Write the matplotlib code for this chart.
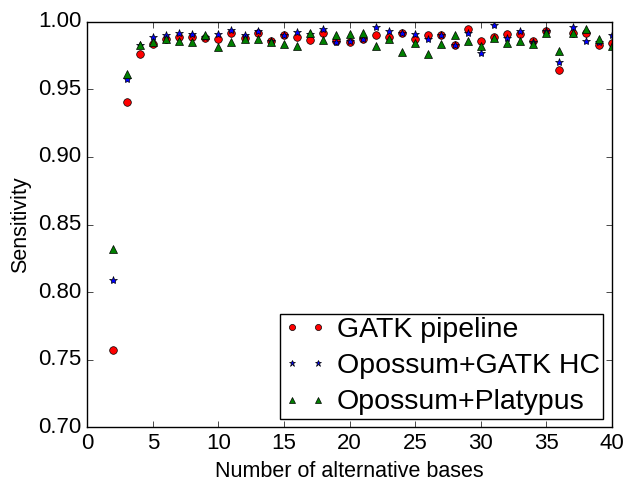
import matplotlib
matplotlib.use("Agg")
import matplotlib.pyplot as plt

plt.style.use("classic")
plt.rcParams["font.family"] = ["Liberation Sans", "DejaVu Sans"]

bases = list(range(2, 41))

gatk_pipeline = [
    0.757, 0.941, 0.976, 0.9835, 0.987, 0.989, 0.989, 0.988, 0.987, 0.992,
    0.988, 0.992, 0.9857, 0.990, 0.9884, 0.9867, 0.9916, 0.986, 0.985, 0.987,
    0.990, 0.989, 0.9916, 0.987, 0.990, 0.990, 0.983, 0.9948, 0.986, 0.989,
    0.991, 0.991, 0.9855, 0.993, 0.964, 0.992, 0.992, 0.983, 0.984,
]

opossum_gatk_hc = [
    0.809, 0.958, 0.983, 0.989, 0.990, 0.992, 0.991, 0.989, 0.991, 0.994,
    0.990, 0.993, 0.986, 0.990, 0.9924, 0.991, 0.9948, 0.985, 0.986, 0.987,
    0.9958, 0.993, 0.992, 0.9906, 0.987, 0.990, 0.983, 0.992, 0.977, 0.9973,
    0.988, 0.993, 0.985, 0.993, 0.9705, 0.996, 0.9855, 0.985, 0.990,
]

opossum_platypus = [
    0.832, 0.961, 0.983, 0.985, 0.987, 0.9857, 0.985, 0.990, 0.9815, 0.985,
    0.9875, 0.987, 0.985, 0.9837, 0.982, 0.9919, 0.9867, 0.990, 0.991, 0.992,
    0.982, 0.987, 0.9776, 0.9845, 0.976, 0.9833, 0.990, 0.986, 0.982, 0.988,
    0.984, 0.986, 0.9835, 0.992, 0.9785, 0.9917, 0.9948, 0.987, 0.982,
]

fig = plt.figure(figsize=(6.27, 4.83), dpi=100, facecolor="white")
ax = fig.add_axes([0.139, 0.115, 0.837, 0.84])

ax.plot(bases, gatk_pipeline, "o", color="r", markersize=5.5,
        markeredgewidth=0.5, label="GATK pipeline")
ax.plot(bases, opossum_gatk_hc, "*", color="b", markersize=6,
        markeredgewidth=0.5, label="Opossum+GATK HC")
ax.plot(bases, opossum_platypus, "^", color="g", markersize=6,
        markeredgewidth=0.5, label="Opossum+Platypus")

ax.set_xlim(0, 40)
ax.set_ylim(0.70, 1.00)
ax.set_xticks(range(0, 41, 5))
ax.set_yticks([0.70, 0.75, 0.80, 0.85, 0.90, 0.95, 1.00])
ax.tick_params(labelsize=16)
ax.set_xlabel("Number of alternative bases", fontsize=15.5)
ax.set_ylabel("Sensitivity", fontsize=15.5)

ax.legend(loc="lower right", numpoints=2, fontsize=20.5, markerscale=0.8,
          borderaxespad=0.3, handlelength=1.5, handletextpad=0.38,
          labelspacing=0.36, borderpad=0.12)

fig.savefig("out.png", dpi=100, facecolor="white")
